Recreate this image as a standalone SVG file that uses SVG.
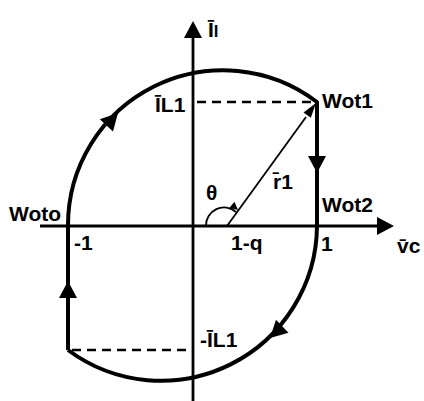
<svg xmlns="http://www.w3.org/2000/svg" width="424" height="401" viewBox="0 0 424 401">
<style>
.axis{stroke:#000;stroke-width:2.8;fill:none}
.traj{stroke:#000;stroke-width:4;fill:none;stroke-linejoin:round}
.dash{stroke:#000;stroke-width:2.6;fill:none;stroke-dasharray:9,6}
.thin{stroke:#000;stroke-width:1.8;fill:none}
.lbl{font-family:"Liberation Sans","DejaVu Sans",Arial,sans-serif;font-weight:bold;font-size:21px;fill:#000}
</style>
<defs>
<path id="ah" d="M0,0 L-17,-9 L-17,9 Z" fill="#000"/>
<path id="ahs" d="M0,0 L-15,-4.5 L-15,4.5 Z" fill="#000"/>
<path id="aht" d="M0,0 L-8,-4 L-8,4 Z" fill="#000"/>
</defs>
<rect width="424" height="401" fill="#fff"/>
<g id="connectors">
<line class="axis" x1="40" y1="226" x2="380" y2="226"/>
<line class="axis" x1="193" y1="401" x2="193" y2="34"/>
<use href="#ah" transform="translate(394,226)"/>
<use href="#ah" transform="translate(193,21) rotate(-90)"/>
<path class="traj" d="M68,350 L68,226 A155,155 0 0 1 317,102 L317,226 A156,156 0 0 1 68,350"/>
<line class="dash" x1="197" y1="102" x2="313" y2="102"/>
<line class="dash" x1="72" y1="350" x2="191" y2="350"/>
<use href="#ah" transform="translate(317,173) rotate(90)"/>
<use href="#ah" transform="translate(68,281) rotate(-90)"/>
<use href="#ah" transform="translate(118,113) rotate(-47)"/>
<use href="#ah" transform="translate(270,338) rotate(136)"/>
<line class="thin" x1="227" y1="226" x2="306" y2="117"/>
<use href="#ahs" transform="translate(316,103) rotate(-54)"/>
<path class="thin" d="M206,226 A18,18 0 0 1 236,212" stroke-width="2.4"/>
<use href="#aht" transform="translate(238,210) rotate(40)"/>
</g>
<g id="labels">
<text class="lbl" x="208" y="37" font-size="22">Ī<tspan font-size="17">l</tspan></text>
<text class="lbl" x="155" y="112">ĪL1</text>
<text class="lbl" x="322" y="108">Wot1</text>
<text class="lbl" x="322" y="212">Wot2</text>
<text class="lbl" x="9" y="221">Woto</text>
<text class="lbl" x="74" y="250">-1</text>
<text class="lbl" x="231" y="250">1-q</text>
<text class="lbl" x="321" y="251">1</text>
<text class="lbl" x="206" y="200" font-size="17">θ</text>
<text class="lbl" x="273" y="189">r̄1</text>
<text class="lbl" x="397" y="253">v̄c</text>
<text class="lbl" x="200" y="347">-ĪL1</text>
</g>
</svg>
